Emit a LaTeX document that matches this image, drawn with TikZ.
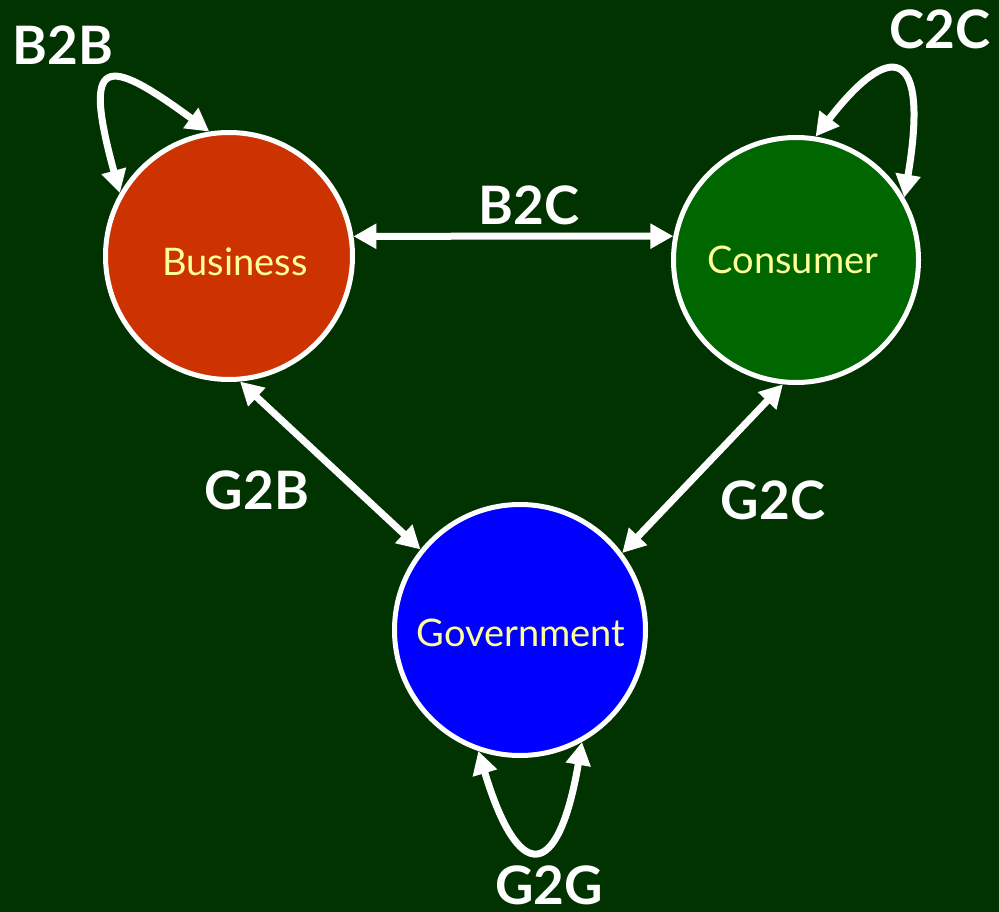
\documentclass[tikz,border=0pt]{standalone}
\usepackage{fontspec}
\setmainfont{Lato}
\usetikzlibrary{arrows.meta}
\definecolor{bg}{RGB}{0,51,0}
\definecolor{busfill}{RGB}{204,51,0}
\definecolor{confill}{RGB}{0,102,0}
\definecolor{govfill}{RGB}{0,0,255}
\definecolor{txtyel}{RGB}{255,255,153}
\tikzset{
  actor/.style={circle, draw=white, line width=5pt, inner sep=0pt, text=txtyel, font=\fontsize{38}{40}\selectfont},
  rel/.style={draw=white, line width=7pt, {Triangle[length=23pt,width=24pt]}-{Triangle[length=23pt,width=24pt]}},
  lbl/.style={text=white, font=\fontsize{53}{56}\selectfont\bfseries, inner sep=0pt}
}
\begin{document}
\begin{tikzpicture}[x=1pt,y=-1pt]
\fill[bg] (0,0) rectangle (999,912);
\useasboundingbox (0,0) rectangle (999,912);
\node[actor, fill=busfill, minimum size=247pt] (b) at (229,256) {};
\node[actor, fill=confill, minimum size=245pt] (c) at (796,260) {};
\node[actor, fill=govfill, minimum size=251pt] (g) at (520,630) {};
\node[text=txtyel, font=\fontsize{38}{40}\selectfont, inner sep=0pt] (bt) at (235,262) {Business};
\node[text=txtyel, font=\fontsize{38}{40}\selectfont, inner sep=0pt] (ct) at (793,260) {Consumer};
\node[text=txtyel, font=\fontsize{38}{40}\selectfont, inner sep=0pt] (gt) at (521,633) {Government};
\draw[rel] (b.9) -- (c.169.5);
\draw[rel] (b.-85) -- (g.141);
\draw[rel] (c.-96) -- (g.37);
\draw[rel] (b.150) .. controls (82,55) and (105,55) .. (b.99);
\draw[rel] (c.81) .. controls (890,40) and (930,45) .. (c.30);
\draw[rel] (g.-109) .. controls (518,883) and (558,883) .. (g.-61);
\node[lbl] (lb2b) at (63,45) {B2B};
\node[lbl] (lc2c) at (940,29) {C2C};
\node[lbl] (lb2c) at (529,205) {B2C};
\node[lbl] (lg2b) at (257,490) {G2B};
\node[lbl] (lg2c) at (773,500) {G2C};
\node[lbl] (lg2g) at (549,885) {G2G};
\end{tikzpicture}
\end{document}
